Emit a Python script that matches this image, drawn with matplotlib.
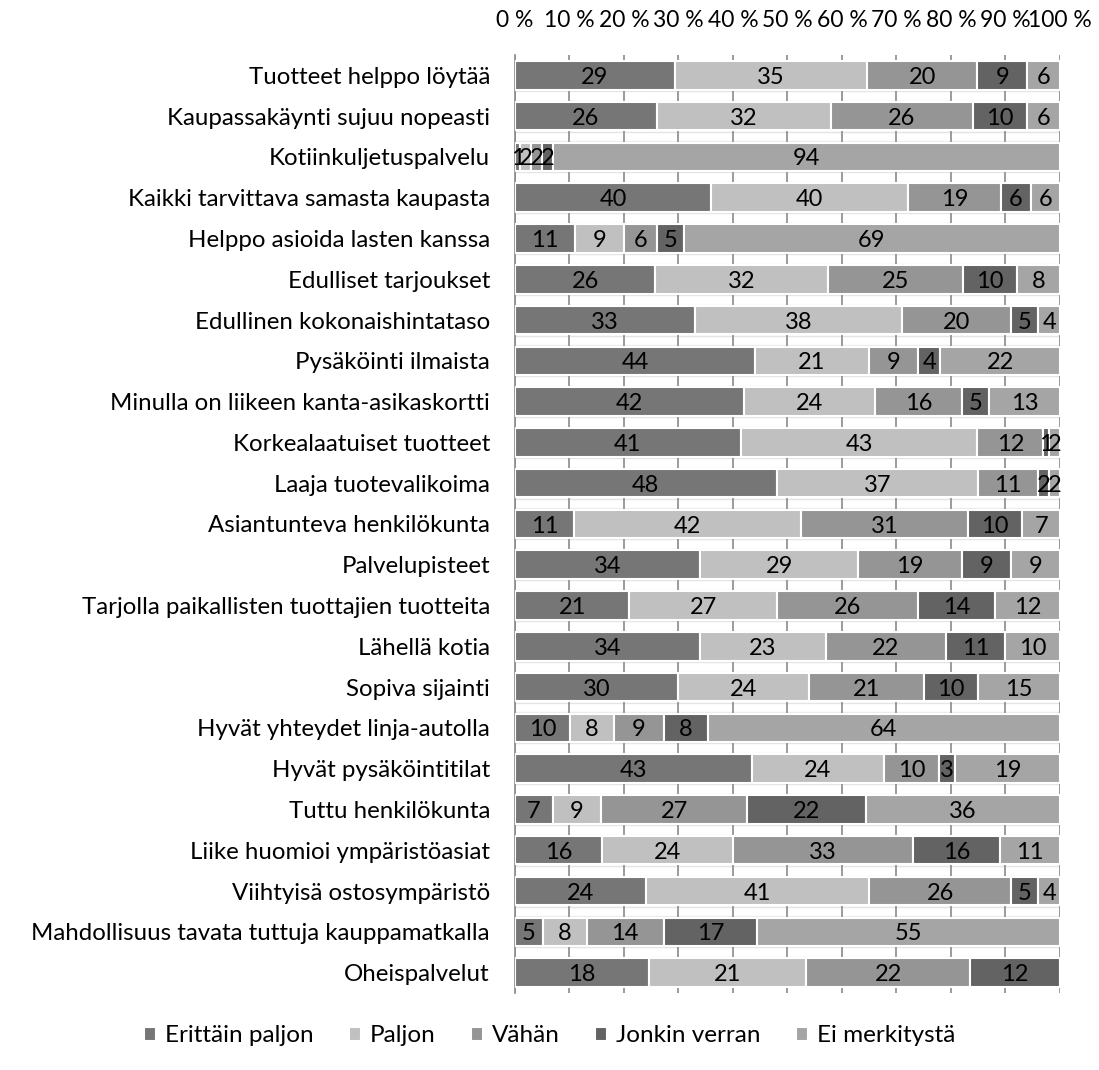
import numpy as np
import matplotlib
matplotlib.use("Agg")
import matplotlib.pyplot as plt

plt.rcParams['font.family'] = ['Lato', 'DejaVu Sans']

categories = [
    "Tuotteet helppo löytää",
    "Kaupassakäynti sujuu nopeasti",
    "Kotiinkuljetuspalvelu",
    "Kaikki tarvittava samasta kaupasta",
    "Helppo asioida lasten kanssa",
    "Edulliset tarjoukset",
    "Edullinen kokonaishintataso",
    "Pysäköinti ilmaista",
    "Minulla on liikeen kanta-asikaskortti",
    "Korkealaatuiset tuotteet",
    "Laaja tuotevalikoima",
    "Asiantunteva henkilökunta",
    "Palvelupisteet",
    "Tarjolla paikallisten tuottajien tuotteita",
    "Lähellä kotia",
    "Sopiva sijainti",
    "Hyvät yhteydet linja-autolla",
    "Hyvät pysäköintitilat",
    "Tuttu henkilökunta",
    "Liike huomioi ympäristöasiat",
    "Viihtyisä ostosympäristö",
    "Mahdollisuus tavata tuttuja kauppamatkalla",
    "Oheispalvelut",
]

series_names = ["Erittäin paljon", "Paljon", "Vähän", "Jonkin verran", "Ei merkitystä"]

erittain_paljon = [29, 26, 1, 40, 11, 26, 33, 44, 42, 41, 48, 11, 34, 21, 34, 30, 10, 43, 7, 16, 24, 5, 18]
paljon          = [35, 32, 2, 40, 9, 32, 38, 21, 24, 43, 37, 42, 29, 27, 23, 24, 8, 24, 9, 24, 41, 8, 21]
vahan           = [20, 26, 2, 19, 6, 25, 20, 9, 16, 12, 11, 31, 19, 26, 22, 21, 9, 10, 27, 33, 26, 14, 22]
jonkin_verran   = [9, 10, 2, 6, 5, 10, 5, 4, 5, 1, 2, 10, 9, 14, 11, 10, 8, 3, 22, 16, 5, 17, 12]
ei_merkitysta   = [6, 6, 94, 6, 69, 8, 4, 22, 13, 2, 2, 7, 9, 12, 10, 15, 64, 19, 36, 11, 4, 55, 0]

colors = ["#767676", "#c0c0c0", "#959595", "#636363", "#a5a5a5"]
tick_labels = [f"{v} %" for v in range(0, 101, 10)]

data = np.array([erittain_paljon, paljon, vahan, jonkin_verran, ei_merkitysta], dtype=float)
shares = data / data.sum(axis=0) * 100

fig = plt.figure(figsize=(10.99, 10.70), dpi=100)
ax = fig.add_axes([0.4686, 0.072, 0.4959, 0.8766])

y = np.arange(len(categories))
left = np.zeros(len(categories))
for i, name in enumerate(series_names):
    bars = ax.barh(y, shares[i], left=left, height=0.7, color=colors[i],
                   edgecolor="white", linewidth=1.5, label=name, zorder=3)
    for j, rect in enumerate(bars):
        if data[i, j] > 0:
            ax.text(rect.get_x() + rect.get_width() / 2, y[j] + 0.05,
                    f"{int(data[i, j])}", ha="center", va="center",
                    fontsize=17, color="black", zorder=4)
    left += shares[i]

ax.set_xlim(0, 100)
ax.set_ylim(len(categories) - 0.5, -0.5)
ax.set_yticks(y)
ax.set_yticklabels(categories, fontsize=17.3)
ax.tick_params(axis="y", length=0, pad=18)
ax.xaxis.tick_top()
ax.set_xticks(np.arange(0, 101, 10))
ax.set_xticklabels(tick_labels, fontsize=16.5)
ax.tick_params(axis="x", length=0, pad=17)
ax.grid(axis="x", color="#8a8a8a", linewidth=1.2, zorder=0)

for side in ["top", "bottom", "right"]:
    ax.spines[side].set_visible(False)
ax.spines["left"].set_color("#8a8a8a")
ax.spines["left"].set_linewidth(1.2)

# faint separators between the rows
for k in range(len(categories) - 1):
    ax.axhline(k + 0.5 - 0.12, color="#e4e4e4", linewidth=1.0, zorder=1)
    ax.axhline(k + 0.5 + 0.12, color="#ededed", linewidth=1.0, zorder=1)

fig.legend(*ax.get_legend_handles_labels(), loc="center", ncol=5,
           bbox_to_anchor=(0.5, 0.032), frameon=False, fontsize=17.5,
           handlelength=0.5, handleheight=0.5, handletextpad=0.37,
           columnspacing=1.45)

fig.savefig("out.png", dpi=100, facecolor="white")
